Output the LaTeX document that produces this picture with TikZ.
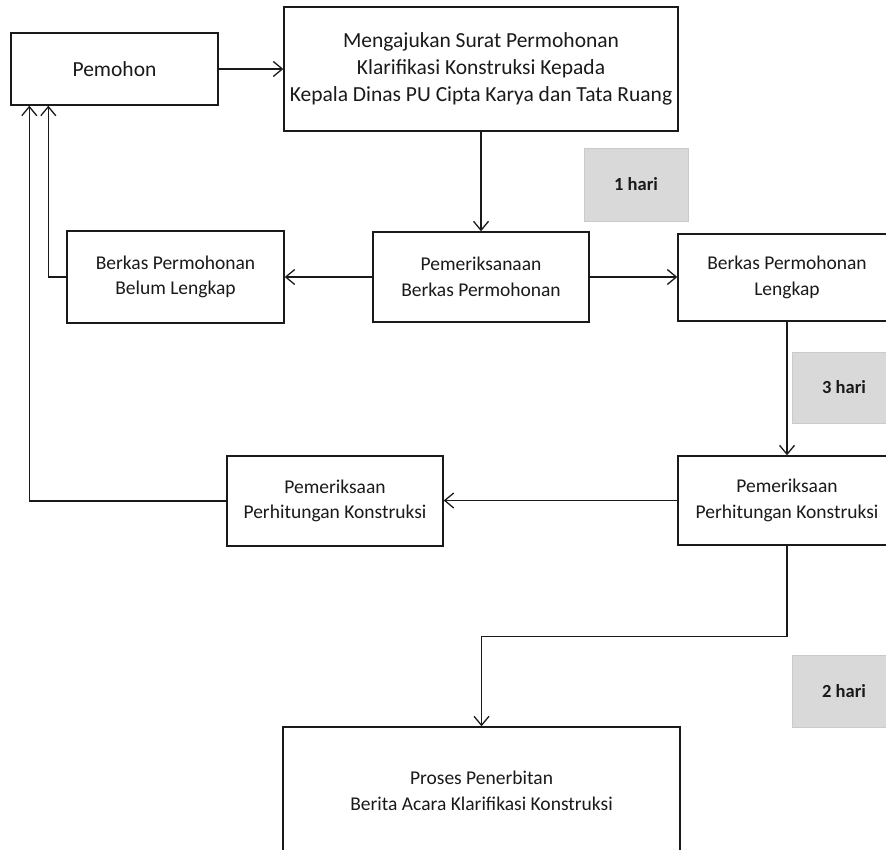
\documentclass[tikz,border=0pt]{standalone}
\usepackage{fontspec}
\setmainfont{Carlito}
\usetikzlibrary{arrows.meta}
\definecolor{graybox}{HTML}{D9D9D9}
\definecolor{grayedge}{HTML}{CACACA}
\definecolor{ink}{HTML}{1A1A1A}
\tikzset{
  box/.style={draw=ink, line width=1.4pt, fill=white, align=center, inner sep=0pt,
    font=\fontsize{19.5}{25.5}\selectfont, text=ink},
  bigtext/.style={font=\fontsize{21.5}{27}\selectfont},
  dayslab/.style={draw=grayedge, line width=0.8pt, fill=graybox, align=center, inner sep=0pt,
    font=\fontsize{18.5}{22}\selectfont\bfseries, text=ink, minimum width=104pt},
  arr/.style={draw=ink, line width=1.3pt, -{Straight Barb[length=9pt,width=15pt,line width=1.3pt]}}
}
\begin{document}
\begin{tikzpicture}[x=1pt,y=-1pt]
\useasboundingbox (0,0) rectangle (886,850);
\clip (0,0) rectangle (886,850);
\fill[white] (0,0) rectangle (886,850);

\node[box, bigtext, minimum width=207pt, minimum height=72pt] (pemohon) at (114.5,69) {Pemohon};
\node[box, bigtext, minimum width=394pt, minimum height=124pt] (ajukan) at (481,69)
  {Mengajukan Surat Permohonan\\Klarifikasi Konstruksi Kepada\\Kepala Dinas PU Cipta Karya dan Tata Ruang};
\node[box, minimum width=216pt, minimum height=90pt] (periksa) at (481,277)
  {Pemeriksanaan\\Berkas Permohonan};
\node[box, minimum width=217pt, minimum height=92pt] (belum) at (175.5,277)
  {Berkas Permohonan\\Belum Lengkap};
\node[box, minimum width=218pt, minimum height=87pt] (lengkap) at (787,277.5)
  {Berkas Permohonan\\Lengkap};
\node[box, minimum width=218pt, minimum height=89pt] (hitungR) at (787,500.5)
  {Pemeriksaan\\Perhitungan Konstruksi};
\node[box, minimum width=216pt, minimum height=90pt] (hitungL) at (335,501)
  {Pemeriksaan\\Perhitungan Konstruksi};
\node[box, minimum width=397pt, minimum height=128pt] (proses) at (481.5,791)
  {Proses Penerbitan\\Berita Acara Klarifikasi Konstruksi};

\node[dayslab, minimum height=73pt] (d1) at (636,184.5) {1 hari};
\node[dayslab, minimum height=71pt] (d3) at (844,387.5) {3 hari};
\node[dayslab, minimum height=72pt] (d2) at (844,691) {2 hari};

\coordinate (pa) at ([xshift=19pt]pemohon.south west);
\coordinate (pb) at ([xshift=38pt]pemohon.south west);

\draw[arr] (pemohon.east) -- (pemohon.east -| ajukan.west);
\draw[arr] (ajukan.south) -- (periksa.north);
\draw[arr] (periksa.west) -- (belum.east);
\draw[arr] (periksa.east) -- (periksa.east -| lengkap.west);
\draw[arr] (belum.west) -| (pb);
\draw[arr] (hitungL.west) -| (pa);
\draw[arr] (lengkap.south) -- (hitungR.north);
\draw[arr] (hitungR.west) -- (hitungR.west -| hitungL.east);
\draw[arr] (hitungR.south) -- ++(0,91) -| (proses.north);
\end{tikzpicture}
\end{document}
